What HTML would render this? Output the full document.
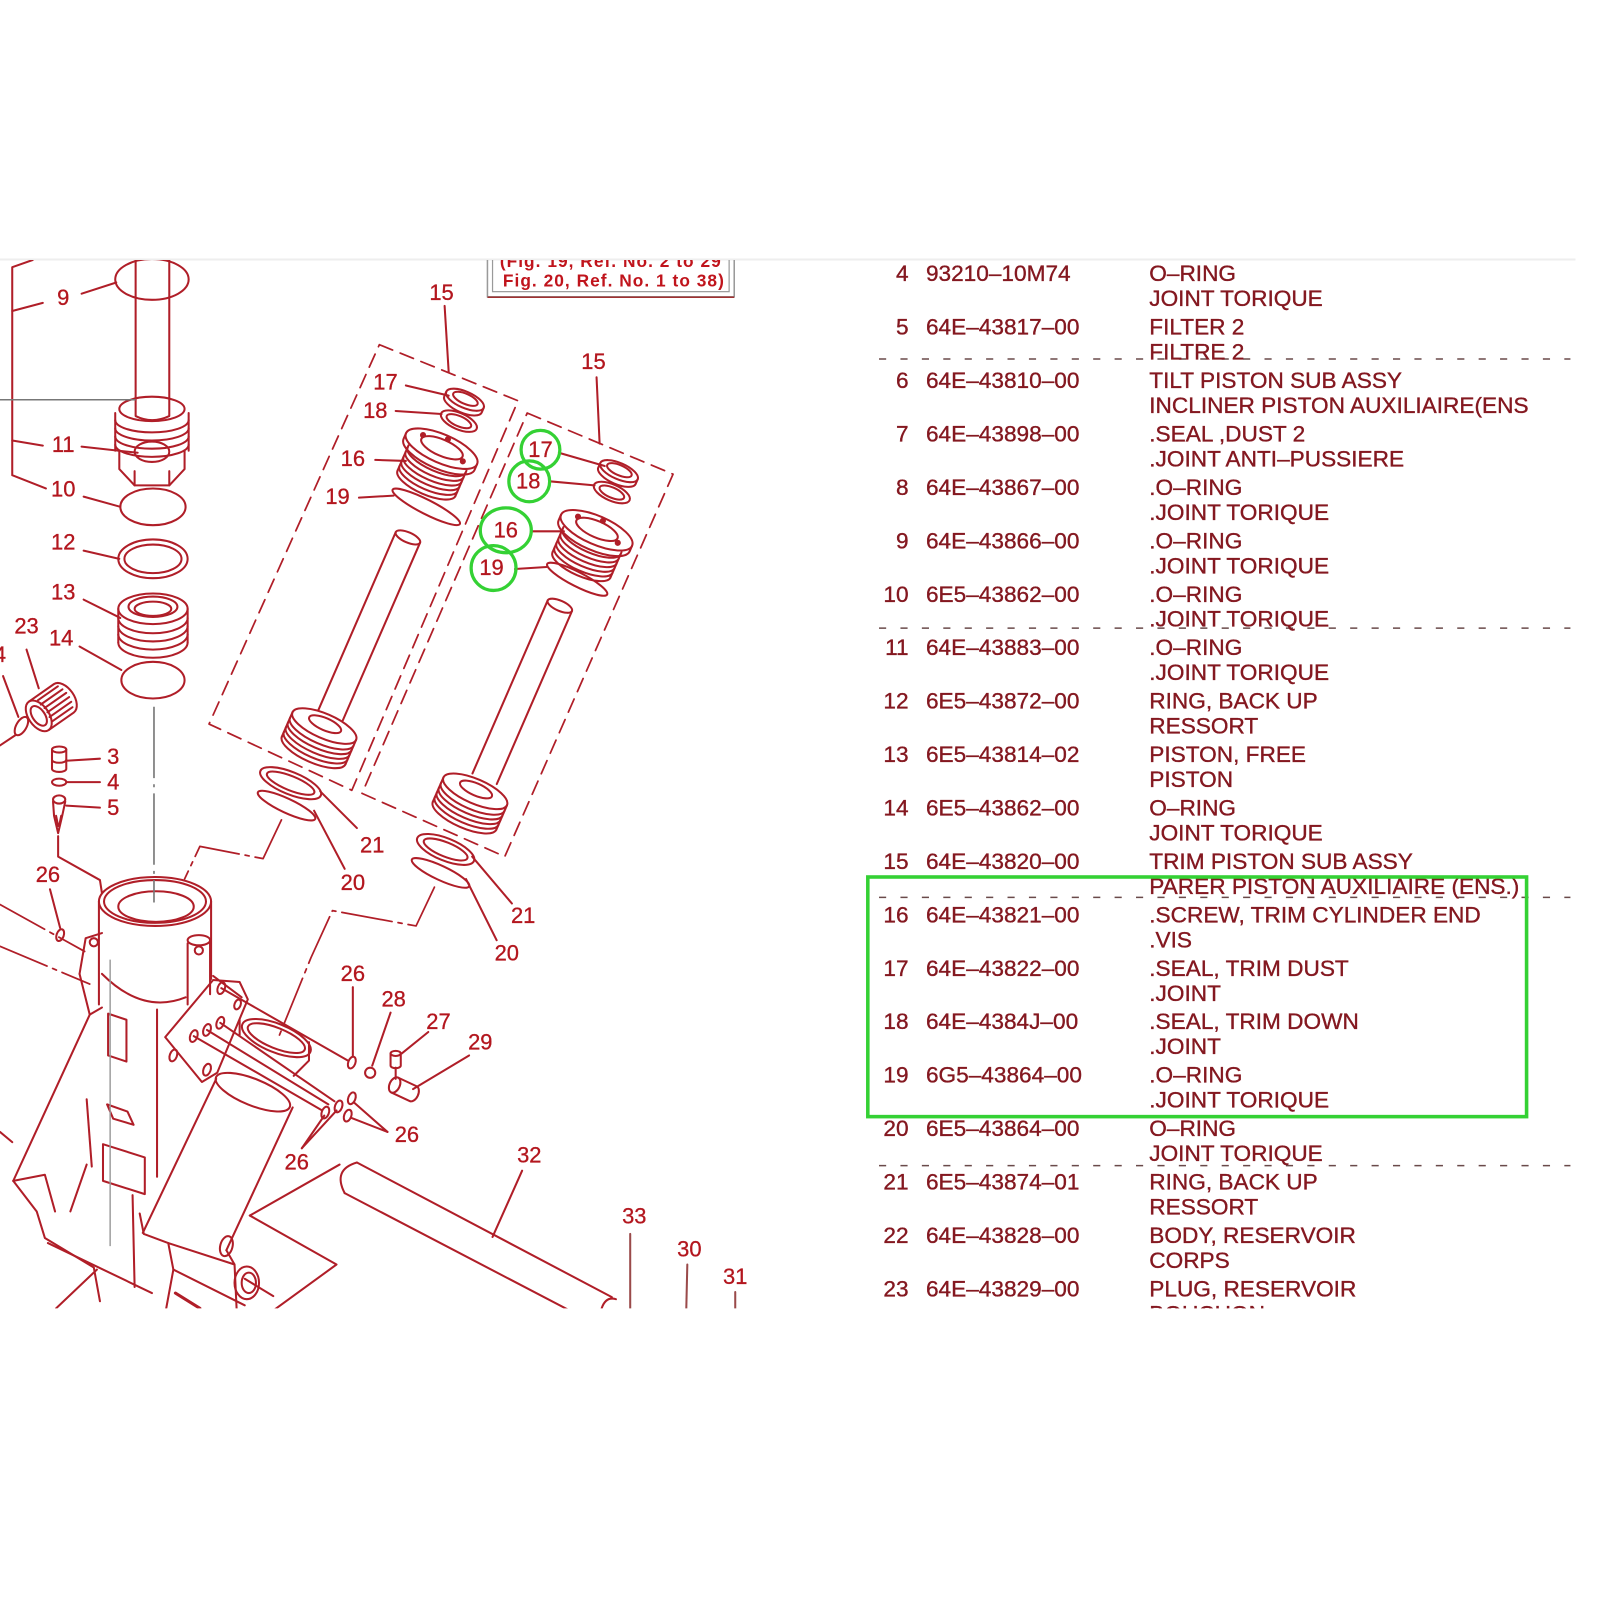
<!DOCTYPE html>
<html>
<head>
<meta charset="utf-8">
<style>
  html,body{margin:0;padding:0;background:#fff;}
  svg{display:block;}
  .t{font-family:"Liberation Sans",Arial,sans-serif;font-size:22.2px;fill:#841820;stroke:#841820;stroke-width:0.35;}
  .l{font-family:"Liberation Sans",Arial,sans-serif;font-size:21.5px;fill:#b3161e;stroke:#b3161e;stroke-width:0.3;text-anchor:middle;}
</style>
</head>
<body>
<svg width="1600" height="1600" viewBox="0 0 1569 1569" xmlns="http://www.w3.org/2000/svg">
<defs>
  <clipPath id="cp"><rect x="0" y="255" width="1545" height="1028"/></clipPath>
</defs>
<rect x="0" y="0" width="1569" height="1569" fill="#fff"/>
<line x1="0" y1="254.5" x2="1545" y2="254.5" stroke="#eeeeee" stroke-width="2"/>

<g clip-path="url(#cp)">

<!-- ===== Reference box ===== -->
<g>
  <rect x="478" y="240" width="242" height="51" fill="none" stroke="#9a9a9a" stroke-width="1.5"/>
  <rect x="483" y="240" width="232" height="46" fill="none" stroke="#9a9a9a" stroke-width="1.2"/>
  <line x1="478" y1="291.5" x2="720" y2="291.5" stroke="#a03030" stroke-width="1.5"/>
  <text x="599" y="262" font-family="Liberation Sans,Arial,sans-serif" font-size="17" font-weight="bold" fill="#c0141c" text-anchor="middle" letter-spacing="1">(Fig. 19, Ref. No. 2 to 29</text>
  <text x="602" y="281" font-family="Liberation Sans,Arial,sans-serif" font-size="17" font-weight="bold" fill="#c0141c" text-anchor="middle" letter-spacing="1">Fig. 20, Ref. No. 1 to 38)</text>
</g>

<!-- ===== Diagram lines ===== -->
<g stroke="#b01e28" stroke-width="2" fill="none" stroke-linecap="round" stroke-linejoin="round">
  <!-- left bracket & leaders -->
  <path d="M32,255 L12,262 L12,466 L45,479"/>
  <path d="M12,305 L42,297"/>
  <path d="M12,432 L42,437"/>
  <path d="M80,288 L114,277"/>
  <path d="M80,438 L135,444"/>
  <path d="M82,487 L118,497"/>
  <path d="M82,540 L117,548"/>
  <path d="M82,588 L118,606"/>
  <path d="M78,634 L119,657"/>
  <path d="M26,637 L38,675"/>
  <path d="M3,663 L18,703"/>
  <path d="M0,731 L15,721"/>

  <!-- rod 9 -->
  <path d="M133,255 L133,408 Q149,416 166,408 L166,255"/>
  <ellipse cx="149" cy="274" rx="36" ry="20"/>

  <!-- nut 11 -->
  <ellipse cx="149" cy="401" rx="32" ry="12"/>
  <path d="M113,405 L113,442 M185,405 L185,442"/>
  <path d="M113,412 A36,12 0 0 0 185,412"/>
  <path d="M113,420 A36,12 0 0 0 185,420"/>
  <path d="M113,428 A36,12 0 0 0 185,428"/>
  <path d="M113,436 A36,12 0 0 0 185,436"/>
  <path d="M117,442 L117,460 L132,476 L166,476 L181,460 L181,442"/>
  <path d="M132,462 L132,476 M166,462 L166,476"/>
  <ellipse cx="149" cy="443" rx="17" ry="10"/>

  <!-- ring 10 -->
  <ellipse cx="150" cy="497" rx="32" ry="18"/>
  <!-- ring 12 -->
  <ellipse cx="150" cy="548" rx="34" ry="19"/>
  <ellipse cx="150" cy="548" rx="28" ry="14"/>
  <!-- piston 13 -->
  <ellipse cx="150" cy="597" rx="34" ry="15"/>
  <ellipse cx="150" cy="595" rx="24" ry="10"/>
  <ellipse cx="150" cy="597" rx="18" ry="7"/>
  <path d="M116,597 L116,630 M184,597 L184,630"/>
  <path d="M116,606 A34,15 0 0 0 184,606"/>
  <path d="M116,614 A34,15 0 0 0 184,614"/>
  <path d="M116,622 A34,15 0 0 0 184,622"/>
  <path d="M116,630 A34,15 0 0 0 184,630"/>
  <!-- ring 14 -->
  <ellipse cx="150" cy="667" rx="31" ry="18"/>

  <!-- part 23 knurled -->
  <g transform="translate(38,702) rotate(-35)">
    <ellipse cx="0" cy="0" rx="10" ry="17"/>
    <ellipse cx="0" cy="0" rx="6" ry="11"/>
    <path d="M0,-17 L30,-17 A10,17 0 0 1 30,17 L0,17"/>
    <path d="M8,-13 L32,-13 M8,-8 L34,-8 M9,-3 L35,-3 M9,2 L35,2 M8,7 L34,7 M8,12 L32,12"/>
  </g>
  <!-- small ring 4 left -->
  <ellipse cx="21" cy="712" rx="5" ry="10" transform="rotate(30 21 712)"/>

  <!-- parts 3,4,5 -->
  <ellipse cx="58" cy="735" rx="7" ry="3"/>
  <path d="M51,735 L51,754 A7,3 0 0 0 65,754 L65,735"/>
  <path d="M51,745 A7,3 0 0 0 65,745"/>
  <path d="M65,746 L98,744"/>
  <ellipse cx="58" cy="767" rx="7" ry="3.5"/>
  <path d="M66,767 L98,767"/>
  <ellipse cx="58" cy="784" rx="6" ry="4"/>
  <path d="M52,786 L53,800 L57,817 L61,800 L64,786"/>
  <path d="M55,800 L57,810 M60,800 L58,810"/>
  <path d="M65,790 L98,792"/>
  <path d="M57,820 L57,840 L98,863 L100,876"/>
  <!-- 26 left -->
  <path d="M49,872 L59,910"/>
  <ellipse cx="59" cy="917" rx="3.5" ry="6" transform="rotate(20 59 917)"/>

  <!-- dashed boxes -->
  <g stroke-dasharray="14,8" stroke-width="1.7">
    <path d="M372,338 L508,393 L345,775 L205,710 Z"/>
    <path d="M517,405 L660,465 L495,840 L355,778 Z"/>
  </g>
  <path d="M436,300 L440,365"/>
  <path d="M585,370 L588,435"/>

  <!-- LEFT assembly -->
  <g transform="translate(456,392) rotate(23.5)">
    <ellipse rx="20" ry="8"/>
    <ellipse cy="-1" rx="13" ry="5"/>
    <path d="M-20,0 L-20,5 A20,8 0 0 0 20,5 L20,0"/>
  </g>
  <g transform="translate(450,413) rotate(23.5)">
    <ellipse rx="19" ry="8"/>
    <ellipse rx="13" ry="5"/>
  </g>
  <g transform="translate(433,440) rotate(23.5)">
    <ellipse rx="38" ry="14"/>
    <path d="M-38,0 L-38,6 A38,14 0 0 0 38,6 L38,0"/>
    <ellipse cy="-1" rx="22" ry="8"/>
    <path d="M-31,10 L-31,37 M31,10 L31,37"/>
    <path d="M-31,12 A31,11 0 0 0 31,12"/>
    <path d="M-31,17 A31,11 0 0 0 31,17"/>
    <path d="M-31,22 A31,11 0 0 0 31,22"/>
    <path d="M-31,27 A31,11 0 0 0 31,27"/>
    <path d="M-31,32 A31,11 0 0 0 31,32"/>
    <path d="M-31,37 A31,11 0 0 0 31,37"/>
    <circle cx="-22" cy="-5" r="2" fill="#b01e28"/>
    <circle cx="24" cy="3" r="2" fill="#b01e28"/>
    <circle cx="2" cy="-11" r="2" fill="#b01e28"/>
  </g>
  <ellipse cx="418" cy="497" rx="37" ry="7" transform="rotate(27 418 497)"/>
  <g transform="translate(400,527) rotate(23.5)">
    <ellipse rx="13" ry="5"/>
    <path d="M-13,0 L-13,190 M13,0 L13,190"/>
  </g>
  <g transform="translate(318,712) rotate(23.5)">
    <ellipse rx="34" ry="12"/>
    <ellipse cy="-2" rx="17" ry="6"/>
    <path d="M-34,0 L-34,26 M34,0 L34,26"/>
    <path d="M-34,6 A34,12 0 0 0 34,6"/>
    <path d="M-34,11 A34,12 0 0 0 34,11"/>
    <path d="M-34,16 A34,12 0 0 0 34,16"/>
    <path d="M-34,21 A34,12 0 0 0 34,21"/>
    <path d="M-34,26 A34,12 0 0 0 34,26"/>
  </g>
  <!-- leaders left assembly -->
  <path d="M398,378 L440,388"/>
  <path d="M388,403 L433,406"/>
  <path d="M368,451 L398,452"/>
  <path d="M352,488 L386,486"/>

  <!-- RIGHT assembly -->
  <g transform="translate(607,462) rotate(23.5)">
    <ellipse rx="20" ry="8"/>
    <ellipse cy="-1" rx="13" ry="5"/>
    <path d="M-20,0 L-20,5 A20,8 0 0 0 20,5 L20,0"/>
  </g>
  <g transform="translate(600,483) rotate(23.5)">
    <ellipse rx="19" ry="8"/>
    <ellipse rx="13" ry="5"/>
  </g>
  <g transform="translate(585,520) rotate(23.5)">
    <ellipse rx="38" ry="14"/>
    <path d="M-38,0 L-38,6 A38,14 0 0 0 38,6 L38,0"/>
    <ellipse cy="-1" rx="22" ry="8"/>
    <path d="M-31,10 L-31,37 M31,10 L31,37"/>
    <path d="M-31,12 A31,11 0 0 0 31,12"/>
    <path d="M-31,17 A31,11 0 0 0 31,17"/>
    <path d="M-31,22 A31,11 0 0 0 31,22"/>
    <path d="M-31,27 A31,11 0 0 0 31,27"/>
    <path d="M-31,32 A31,11 0 0 0 31,32"/>
    <path d="M-31,37 A31,11 0 0 0 31,37"/>
    <circle cx="-22" cy="-5" r="2" fill="#b01e28"/>
    <circle cx="24" cy="3" r="2" fill="#b01e28"/>
    <circle cx="2" cy="-11" r="2" fill="#b01e28"/>
  </g>
  <ellipse cx="566" cy="568" rx="33" ry="7" transform="rotate(27 566 568)"/>
  <g transform="translate(549,594) rotate(23.5)">
    <ellipse rx="13" ry="5"/>
    <path d="M-13,0 L-13,185 M13,0 L13,185"/>
  </g>
  <g transform="translate(466,776) rotate(23.5)">
    <ellipse rx="34" ry="12"/>
    <ellipse cy="-2" rx="17" ry="6"/>
    <path d="M-34,0 L-34,26 M34,0 L34,26"/>
    <path d="M-34,6 A34,12 0 0 0 34,6"/>
    <path d="M-34,11 A34,12 0 0 0 34,11"/>
    <path d="M-34,16 A34,12 0 0 0 34,16"/>
    <path d="M-34,21 A34,12 0 0 0 34,21"/>
    <path d="M-34,26 A34,12 0 0 0 34,26"/>
  </g>
  <path d="M548,444 L593,457"/>
  <path d="M539,472 L583,476"/>
  <path d="M521,521 L553,521"/>
  <path d="M505,558 L536,556"/>

  <!-- rings 20 / 21 -->
  <ellipse cx="285" cy="768" rx="32" ry="11" transform="rotate(22 285 768)"/>
  <ellipse cx="285" cy="768" rx="25" ry="7" transform="rotate(22 285 768)"/>
  <ellipse cx="281" cy="790" rx="31" ry="7" transform="rotate(25 281 790)"/>
  <ellipse cx="437" cy="833" rx="30" ry="11" transform="rotate(22 437 833)"/>
  <ellipse cx="437" cy="833" rx="23" ry="7" transform="rotate(22 437 833)"/>
  <ellipse cx="432" cy="856" rx="31" ry="7" transform="rotate(25 432 856)"/>
  <path d="M350,812 L314,776"/>
  <path d="M338,852 L308,795"/>
  <path d="M502,886 L463,840"/>
  <path d="M487,922 L457,862"/>

  <!-- dash-dot connectors -->
  <g stroke-dasharray="50,6,4,6" stroke-width="1.7">
    <path d="M276,804 L258,842 L196,830 L181,862"/>
    <path d="M426,870 L408,908 L326,893 L305,939 L272,1020"/>
    <path d="M0,887 L83,933"/>
    <path d="M0,928 L88,965"/>
  </g>

  <!-- cylinder 22 top -->
  <ellipse cx="152" cy="884" rx="55" ry="24"/>
  <ellipse cx="152" cy="884" rx="50" ry="21"/>
  <ellipse cx="153" cy="889" rx="37" ry="15"/>
  <path d="M97,884 L97,985"/>
  <path d="M207,884 L207,960"/>
  <path d="M100,955 Q140,995 182,978"/>
  <path d="M184,925 L184,985 M206,925 L206,975"/>
  <ellipse cx="195" cy="922" rx="11" ry="5"/>
  <ellipse cx="195" cy="932" rx="4" ry="4"/>
  <path d="M78,955 L84,920 L100,915"/>
  <ellipse cx="92" cy="924" rx="4" ry="4"/>
  <!-- housing -->
  <path d="M78,955 L88,995 L13,1158"/>
  <path d="M88,995 L100,988"/>
  <path d="M154,990 L154,1154"/>
  <path d="M106,994 L124,1000 L124,1041 L106,1035 Z"/>
  <path d="M105,1083 L125,1090 L131,1103 L111,1097 Z"/>
  <path d="M101,1122 L142,1135 L142,1171 L101,1158 Z"/>
  <path d="M13,1158 L44,1152 L54,1188"/>
  <path d="M13,1158 L36,1188 L44,1214 L92,1243 L98,1276"/>
  <path d="M47,1219 L149,1268"/>
  <path d="M55,1283 L95,1245"/>
  <path d="M85,1078 L90,1144"/>
  <path d="M69,1188 L85,1142"/>
  <path d="M0,1110 L12,1120"/>
  <path d="M130,1172 L132,1262"/>
  <!-- plate -->
  <path d="M162,1017 L209,961 L235,963 L243,980 L213,1052 L198,1061 Z"/>
  <path d="M209,957 L237,978"/>
  <ellipse cx="217" cy="969" rx="3.5" ry="6" transform="rotate(20 217 969)"/>
  <ellipse cx="216" cy="1003" rx="3.5" ry="6" transform="rotate(20 216 1003)"/>
  <ellipse cx="203" cy="1010" rx="3.5" ry="6" transform="rotate(20 203 1010)"/>
  <ellipse cx="190" cy="1016" rx="3.5" ry="6" transform="rotate(20 190 1016)"/>
  <ellipse cx="170" cy="1035" rx="3.5" ry="6" transform="rotate(20 170 1035)"/>
  <ellipse cx="203" cy="1049" rx="3.5" ry="6" transform="rotate(20 203 1049)"/>
  <ellipse cx="233" cy="985" rx="3" ry="5" transform="rotate(20 233 985)"/>
  <!-- bore -->
  <ellipse cx="271" cy="1018" rx="36" ry="14" transform="rotate(22 271 1018)"/>
  <ellipse cx="271" cy="1018" rx="30" ry="10" transform="rotate(22 271 1018)"/>
  <path d="M235,1000 L235,1015"/>
  <path d="M303,1022 L303,1040 L288,1055"/>
  <!-- trim cylinder body -->
  <ellipse cx="248" cy="1071" rx="39" ry="13" transform="rotate(22 248 1071)"/>
  <path d="M212,1058 L140,1209"/>
  <path d="M287,1086 L222,1226"/>
  <path d="M137,1190 L141,1210 L165,1219 L170,1245 L240,1280"/>
  <path d="M170,1245 L163,1283"/>
  <path d="M165,1219 L230,1240"/>
  <path d="M222,1226 L230,1240 L232,1283"/>
  <ellipse cx="222" cy="1222" rx="6" ry="10" transform="rotate(15 222 1222)"/>
  <ellipse cx="242" cy="1258" rx="12" ry="16"/>
  <ellipse cx="244" cy="1258" rx="7" ry="10"/>
  <path d="M240,1254 L268,1271"/>
  <path d="M172,1268 L196,1283" stroke-width="3"/>
  <!-- bracket -->
  <path d="M245,1192 L333,1142"/>
  <path d="M245,1192 L330,1240 L264,1288"/>
  <!-- rod 32 -->
  <path d="M350,1140 L600,1272"/>
  <path d="M338,1170 L568,1290"/>
  <path d="M350,1140 Q326,1147 338,1170"/>
  <path d="M590,1283 Q594,1271 604,1274"/>
  <path d="M512,1148 L483,1213"/>
  <path d="M618,1210 L618,1283" stroke="#9a4a4a"/>
  <path d="M674,1240 L673,1283" stroke="#9a4a4a"/>
  <path d="M721,1267 L721,1283" stroke="#9a4a4a"/>

  <!-- pins & small parts -->
  <path d="M217,969 L341,1040"/>
  <path d="M216,1003 L328,1080"/>
  <path d="M203,1010 L322,1083"/>
  <path d="M190,1016 L316,1089"/>
  <ellipse cx="345" cy="1042" rx="3.5" ry="6" transform="rotate(20 345 1042)"/>
  <ellipse cx="345" cy="1077" rx="3.5" ry="6" transform="rotate(20 345 1077)"/>
  <ellipse cx="332" cy="1085" rx="3.5" ry="6" transform="rotate(20 332 1085)"/>
  <ellipse cx="319" cy="1091" rx="3.5" ry="6" transform="rotate(20 319 1091)"/>
  <ellipse cx="341" cy="1094" rx="3.5" ry="6" transform="rotate(20 341 1094)"/>
  <circle cx="363" cy="1052" r="5"/>
  <ellipse cx="388" cy="1033" rx="5" ry="2.5"/>
  <path d="M383,1033 L383,1045 A5,2.5 0 0 0 393,1045 L393,1033"/>
  <path d="M388,1047 L388,1058"/>
  <g transform="translate(387,1064) rotate(25)">
    <ellipse rx="5" ry="8"/>
    <path d="M0,-8 L20,-8 A5,8 0 0 1 20,8 L0,8"/>
  </g>
  <path d="M346,968 L346,1035"/>
  <path d="M383,993 L365,1045"/>
  <path d="M420,1012 L394,1033"/>
  <path d="M460,1035 L405,1068"/>
  <path d="M380,1110 L347,1081"/>
  <path d="M380,1110 L344,1096"/>
  <path d="M296,1126 L318,1094"/>
  <path d="M296,1126 L330,1089"/>
</g>

<!-- gray center lines -->
<line x1="0" y1="392" x2="133" y2="392" stroke="#777" stroke-width="1.5"/>
<line x1="151" y1="693" x2="151" y2="885" stroke="#777" stroke-width="1.6" stroke-dasharray="70,6,3,6"/>
<line x1="108" y1="941" x2="108" y2="1222" stroke="#999" stroke-width="1.4"/>

<!-- labels -->
<g>
  <text class="l" x="62" y="299">9</text>
  <text class="l" x="62" y="443">11</text>
  <text class="l" x="62" y="487">10</text>
  <text class="l" x="62" y="539">12</text>
  <text class="l" x="62" y="588">13</text>
  <text class="l" x="26" y="621">23</text>
  <text class="l" x="60" y="633">14</text>
  <text class="l" x="0" y="649">4</text>
  <text class="l" x="111" y="749">3</text>
  <text class="l" x="111" y="774">4</text>
  <text class="l" x="111" y="799">5</text>
  <text class="l" x="47" y="865">26</text>
  <text class="l" x="433" y="294">15</text>
  <text class="l" x="582" y="362">15</text>
  <text class="l" x="378" y="382">17</text>
  <text class="l" x="368" y="410">18</text>
  <text class="l" x="346" y="457">16</text>
  <text class="l" x="331" y="494">19</text>
  <text class="l" x="530" y="448">17</text>
  <text class="l" x="518" y="479">18</text>
  <text class="l" x="496" y="527">16</text>
  <text class="l" x="482" y="564">19</text>
  <text class="l" x="365" y="836">21</text>
  <text class="l" x="346" y="873">20</text>
  <text class="l" x="513" y="905">21</text>
  <text class="l" x="497" y="942">20</text>
  <text class="l" x="346" y="962">26</text>
  <text class="l" x="386" y="987">28</text>
  <text class="l" x="430" y="1009">27</text>
  <text class="l" x="471" y="1029">29</text>
  <text class="l" x="399" y="1120">26</text>
  <text class="l" x="291" y="1147">26</text>
  <text class="l" x="519" y="1140">32</text>
  <text class="l" x="622" y="1200">33</text>
  <text class="l" x="676" y="1232">30</text>
  <text class="l" x="721" y="1259">31</text>
</g>

<!-- green highlight circles -->
<g fill="none" stroke="#34d134" stroke-width="3.2">
  <circle cx="530" cy="441" r="19"/>
  <circle cx="519" cy="472" r="20"/>
  <ellipse cx="496" cy="520" rx="25" ry="22"/>
  <circle cx="484" cy="557" r="22"/>
</g>

<!-- ===== Table ===== -->
<g stroke="#6a4a4a" stroke-width="1.5" stroke-dasharray="7,14">
  <line x1="862" y1="352" x2="1540" y2="352"/>
  <line x1="862" y1="616" x2="1540" y2="616"/>
  <line x1="862" y1="880" x2="1540" y2="880"/>
  <line x1="862" y1="1143" x2="1540" y2="1143"/>
</g>

<g class="t">
  <g text-anchor="end">
    <text x="891" y="275.7">4</text>
    <text x="891" y="328.1">5</text>
    <text x="891" y="380.5">6</text>
    <text x="891" y="432.9">7</text>
    <text x="891" y="485.3">8</text>
    <text x="891" y="537.7">9</text>
    <text x="891" y="590.1">10</text>
    <text x="891" y="642.5">11</text>
    <text x="891" y="694.9">12</text>
    <text x="891" y="747.3">13</text>
    <text x="891" y="799.7">14</text>
    <text x="891" y="852.1">15</text>
    <text x="891" y="904.5">16</text>
    <text x="891" y="956.9">17</text>
    <text x="891" y="1009.3">18</text>
    <text x="891" y="1061.7">19</text>
    <text x="891" y="1114.1">20</text>
    <text x="891" y="1166.5">21</text>
    <text x="891" y="1218.9">22</text>
    <text x="891" y="1271.3">23</text>
  </g>
  <text x="908" y="275.7">93210–10M74</text>
  <text x="908" y="328.1">64E–43817–00</text>
  <text x="908" y="380.5">64E–43810–00</text>
  <text x="908" y="432.9">64E–43898–00</text>
  <text x="908" y="485.3">64E–43867–00</text>
  <text x="908" y="537.7">64E–43866–00</text>
  <text x="908" y="590.1">6E5–43862–00</text>
  <text x="908" y="642.5">64E–43883–00</text>
  <text x="908" y="694.9">6E5–43872–00</text>
  <text x="908" y="747.3">6E5–43814–02</text>
  <text x="908" y="799.7">6E5–43862–00</text>
  <text x="908" y="852.1">64E–43820–00</text>
  <text x="908" y="904.5">64E–43821–00</text>
  <text x="908" y="956.9">64E–43822–00</text>
  <text x="908" y="1009.3">64E–4384J–00</text>
  <text x="908" y="1061.7">6G5–43864–00</text>
  <text x="908" y="1114.1">6E5–43864–00</text>
  <text x="908" y="1166.5">6E5–43874–01</text>
  <text x="908" y="1218.9">64E–43828–00</text>
  <text x="908" y="1271.3">64E–43829–00</text>

  <text x="1127" y="275.7">O–RING</text>
  <text x="1127" y="300.2">JOINT TORIQUE</text>
  <text x="1127" y="328.1">FILTER 2</text>
  <text x="1127" y="352.6">FILTRE 2</text>
  <text x="1127" y="380.5">TILT PISTON SUB ASSY</text>
  <text x="1127" y="405.0">INCLINER PISTON AUXILIAIRE(ENS</text>
  <text x="1127" y="432.9">.SEAL ,DUST 2</text>
  <text x="1127" y="457.4">.JOINT ANTI–PUSSIERE</text>
  <text x="1127" y="485.3">.O–RING</text>
  <text x="1127" y="509.8">.JOINT TORIQUE</text>
  <text x="1127" y="537.7">.O–RING</text>
  <text x="1127" y="562.2">.JOINT TORIQUE</text>
  <text x="1127" y="590.1">.O–RING</text>
  <text x="1127" y="614.6">.JOINT TORIQUE</text>
  <text x="1127" y="642.5">.O–RING</text>
  <text x="1127" y="667.0">.JOINT TORIQUE</text>
  <text x="1127" y="694.9">RING, BACK UP</text>
  <text x="1127" y="719.4">RESSORT</text>
  <text x="1127" y="747.3">PISTON, FREE</text>
  <text x="1127" y="771.8">PISTON</text>
  <text x="1127" y="799.7">O–RING</text>
  <text x="1127" y="824.2">JOINT TORIQUE</text>
  <text x="1127" y="852.1">TRIM PISTON SUB ASSY</text>
  <text x="1127" y="876.6">PARER PISTON AUXILIAIRE (ENS.)</text>
  <text x="1127" y="904.5">.SCREW, TRIM CYLINDER END</text>
  <text x="1127" y="929.0">.VIS</text>
  <text x="1127" y="956.9">.SEAL, TRIM DUST</text>
  <text x="1127" y="981.4">.JOINT</text>
  <text x="1127" y="1009.3">.SEAL, TRIM DOWN</text>
  <text x="1127" y="1033.8">.JOINT</text>
  <text x="1127" y="1061.7">.O–RING</text>
  <text x="1127" y="1086.2">.JOINT TORIQUE</text>
  <text x="1127" y="1114.1">O–RING</text>
  <text x="1127" y="1138.6">JOINT TORIQUE</text>
  <text x="1127" y="1166.5">RING, BACK UP</text>
  <text x="1127" y="1191.0">RESSORT</text>
  <text x="1127" y="1218.9">BODY, RESERVOIR</text>
  <text x="1127" y="1243.4">CORPS</text>
  <text x="1127" y="1271.3">PLUG, RESERVOIR</text>
  <text x="1127" y="1295.8">BOUCHON</text>
</g>

<!-- green highlight box -->
<rect x="851" y="860" width="646" height="235" fill="none" stroke="#34d134" stroke-width="3.5"/>

</g>
</svg>
</body>
</html>
